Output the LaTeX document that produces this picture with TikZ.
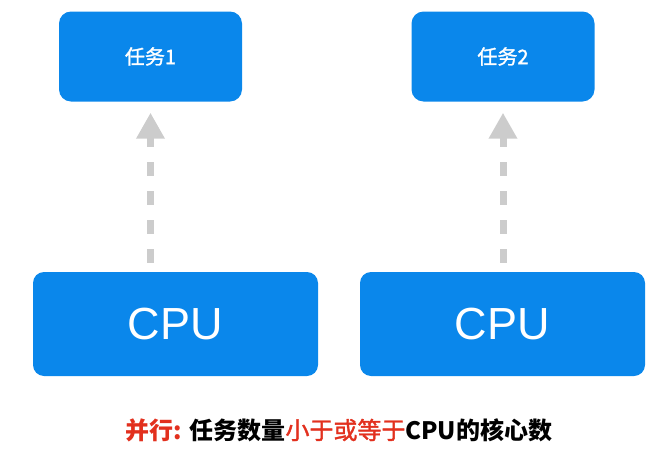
\documentclass[tikz,border=0pt]{standalone}
\usepackage{fontspec}
\setmainfont{Liberation Sans}
\newfontfamily\cjk{Noto Sans CJK SC}
\newfontfamily\cjkmed[FakeBold=1.5]{Noto Sans CJK SC}
\usetikzlibrary{arrows.meta}

\definecolor{boxblue}{RGB}{10,135,235}
\definecolor{flowgray}{RGB}{204,204,204}
\definecolor{hired}{RGB}{226,48,30}

\tikzset{
  taskbox/.style={fill=boxblue, rounded corners=12pt, minimum width=183pt,
    minimum height=90pt, inner sep=0pt, text=white, font=\cjkmed\fontsize{20}{20}\selectfont},
  cpubox/.style={fill=boxblue, rounded corners=11pt, minimum width=285pt,
    minimum height=104pt, inner sep=0pt, text=white, font=\fontsize{45}{45}\selectfont},
  flow/.style={flowgray, line width=7pt, dash pattern=on 14pt off 15pt,
    -{Triangle[width=27pt,length=26pt]}, shorten <=9pt, shorten >=11pt}
}

\begin{document}
\begin{tikzpicture}[x=1pt, y=-1pt]

\useasboundingbox (0,0) rectangle (657,461);

\foreach \i/\tx/\cx in {1/150.5/175.5, 2/503/502.5}{
       \node[taskbox] (task\i) at (\tx, 56.5) {任务\i};
       \node[cpubox] (cpu\i) at (\cx, 324) {CPU};
       \draw[flow] (task\i |- cpu\i.north) -- (task\i.south);
}

\node[font=\cjk\bfseries\fontsize{24}{24}\selectfont] (caption) at (339, 430)
  {\textcolor{hired}{并行:} 任务数量\textcolor{hired}{\cjkmed\mdseries 小于或等于}CPU的核心数};

\end{tikzpicture}
\end{document}
